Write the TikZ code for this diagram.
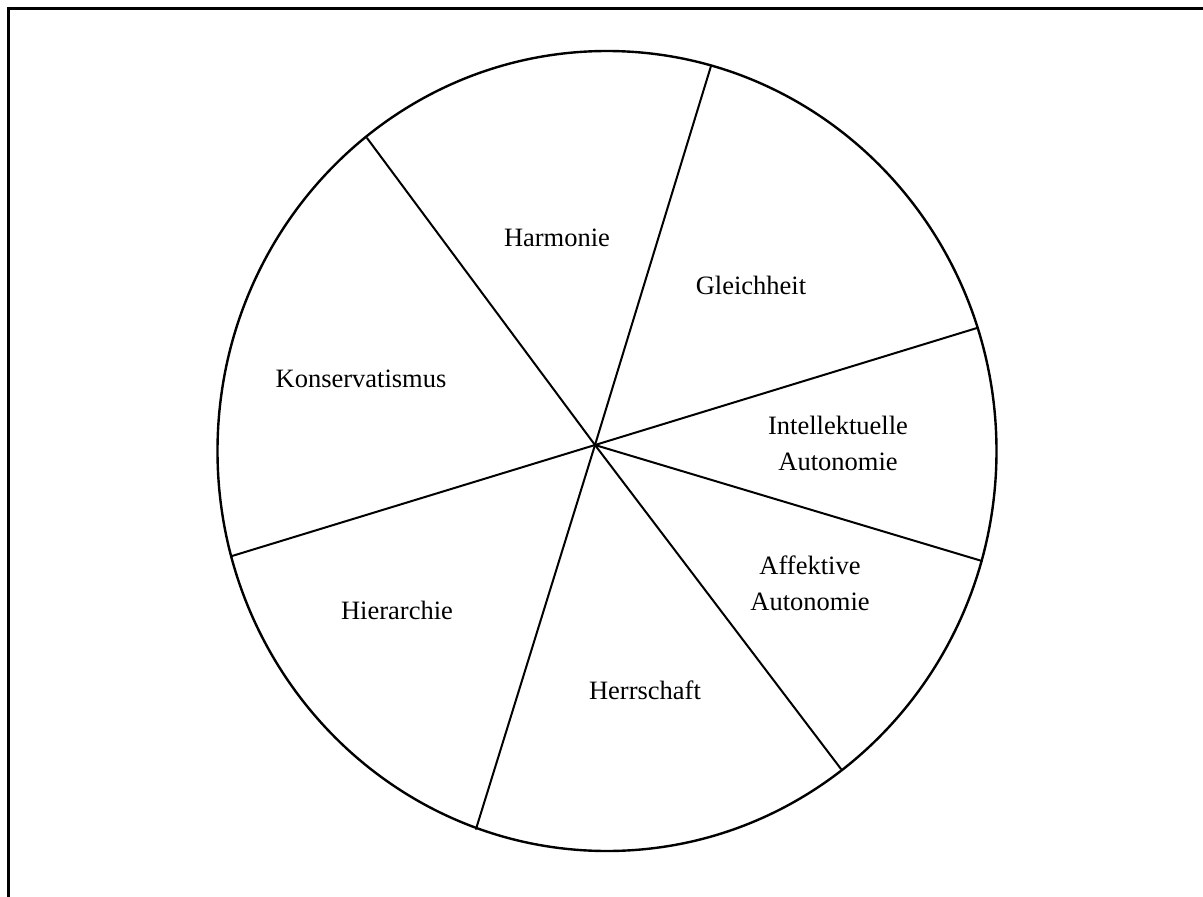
\documentclass[tikz,border=0pt]{standalone}
\usepackage{fontspec}
\setmainfont{Liberation Serif}
\begin{document}
\begin{tikzpicture}[x=1pt,y=-1pt,
  frameline/.style={line width=2.2pt,black},
  wheel/.style={line width=2.4pt,black},
  spoke/.style={line width=2pt,black,line cap=round},
  label/.style={font=\fontsize{26.5}{36}\selectfont,align=center,inner sep=0pt}]
  \useasboundingbox (0,0) rectangle (1203,897);
  % open frame: top and left edges
  \coordinate (ftr) at (1203,8.5);
  \coordinate (ftl) at (8.5,8.5);
  \coordinate (fbl) at (8.5,897);
  \draw[frameline] (ftr) -- (ftl) -- (fbl);
  % the wheel
  \draw[wheel] (607,451) ellipse [x radius=389.5, y radius=400];
  % hub and rim points of the spokes
  \coordinate (hub) at (595,445);
  \coordinate (r1) at (367,138);
  \coordinate (r2) at (711,66);
  \coordinate (r3) at (977,328);
  \coordinate (r4) at (982,561);
  \coordinate (r5) at (841,769);
  \coordinate (r6) at (476,829);
  \coordinate (r7) at (232,556);
  \foreach \r in {r1,r2,r3,r4,r5,r6,r7} \draw[spoke] (hub) -- (\r);
  % segment labels
  \node[label] (harm) at (557,238) {Harmonie};
  \node[label] (gleich) at (751,285) {Gleichheit};
  \node[label] (kons) at (361,379) {Konservatismus};
  \node[label] (intel) at (838,443) {Intellektuelle\\Autonomie};
  \node[label] (affek) at (810,583) {Affektive\\Autonomie};
  \node[label] (hier) at (397,610) {Hierarchie};
  \node[label] (herr) at (645,690) {Herrschaft};
\end{tikzpicture}
\end{document}
